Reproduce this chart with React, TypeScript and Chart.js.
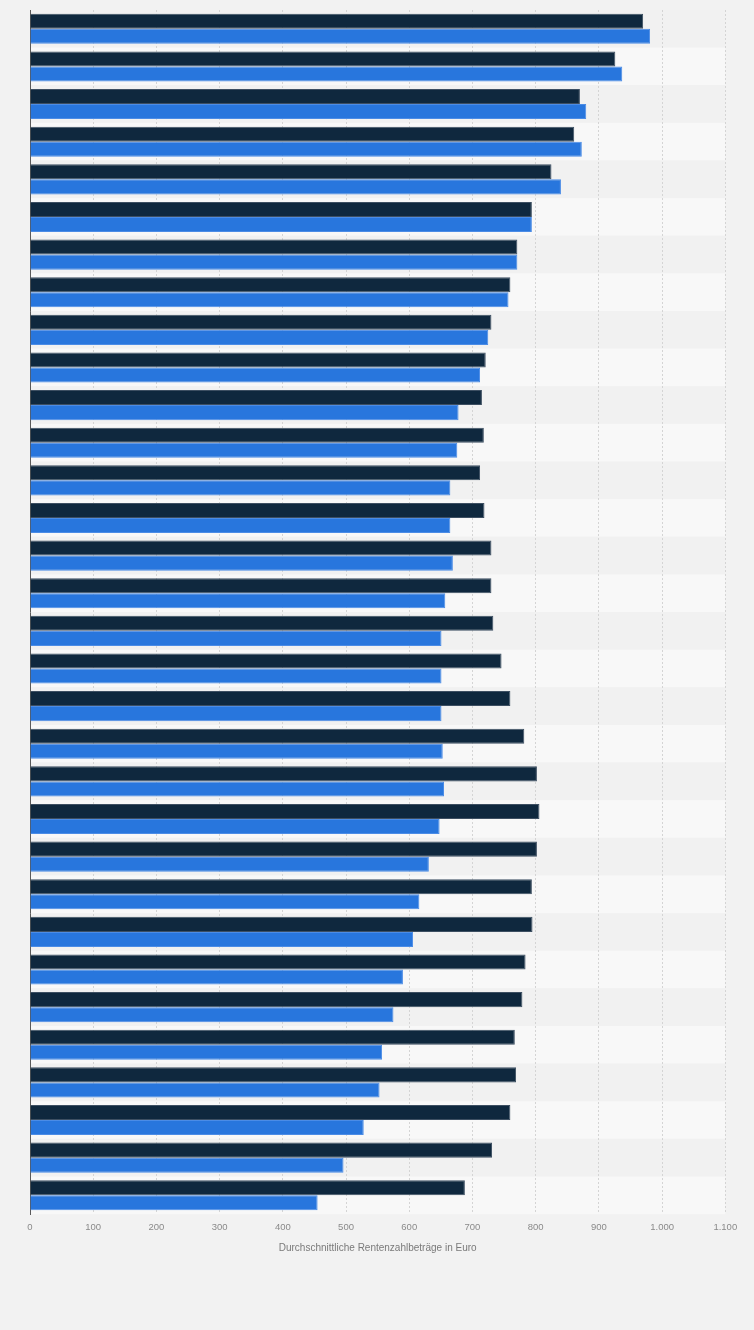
import React, { useEffect, useRef } from "react";
import { Chart, registerables } from "chart.js";

Chart.register(...registerables);

const categories = [
  "2022", "2021", "2020", "2019", "2018", "2017", "2016", "2015",
  "2014", "2013", "2012", "2011", "2010", "2009", "2008", "2007",
  "2006", "2005", "2004", "2003", "2002", "2001", "2000", "1999",
  "1998", "1997", "1996", "1995", "1994", "1993", "1992", "1991",
];

const seriesDark = [
  970, 926, 870, 861, 825, 794, 771, 760, 730, 721, 715, 718, 712, 719, 730, 730,
  733, 746, 760, 782, 802, 806, 802, 794, 795, 784, 779, 767, 769, 760, 731, 688,
];

const seriesBlue = [
  981, 937, 880, 873, 840, 794, 771, 757, 725, 712, 678, 676, 665, 665, 669, 657,
  651, 651, 651, 653, 655, 648, 631, 616, 606, 590, 575, 557, 553, 528, 496, 455,
];

const seriesNames = ["Alte Bundesländer", "Neue Bundesländer"];
const axisTitle = "Durchschnittliche Rentenzahlbeträge in Euro";
const xMin = 0;
const xMax = 1100;
const xStep = 100;

function formatDE(v: number): string {
  const s = Math.round(v).toString();
  return s.replace(/\B(?=(\d{3})+(?!\d))/g, ".");
}

const stripePlugin = {
  id: "stripes",
  beforeDraw(chart: any) {
    const { ctx, chartArea, scales } = chart;
    const y = scales.y;
    ctx.save();
    ctx.fillStyle = "#f2f2f2";
    ctx.fillRect(0, 0, chart.width, chart.height);
    const n = categories.length;
    const h = (chartArea.bottom - chartArea.top) / n;
    for (let i = 0; i < n; i++) {
      const c = y.getPixelForValue(i);
      ctx.fillStyle = i % 2 === 1 ? "#f8f8f8" : "#f1f1f1";
      ctx.fillRect(chartArea.left, c - h / 2, chartArea.right - chartArea.left, h);
    }
    ctx.restore();
  },
};

export default function App() {
  const ref = useRef<HTMLCanvasElement | null>(null);

  useEffect(() => {
    document.body.style.margin = "0";
    document.body.style.background = "#f2f2f2";
    if (!ref.current) return;
    const chart = new Chart(ref.current, {
      type: "bar",
      data: {
        labels: categories,
        datasets: [
          {
            label: seriesNames[0],
            data: seriesDark,
            backgroundColor: "#0f283e",
            borderColor: "#3d4f62",
            borderWidth: 1,
            categoryPercentage: 0.8,
            barPercentage: 1.0,
          },
          {
            label: seriesNames[1],
            data: seriesBlue,
            backgroundColor: "#2876dd",
            borderColor: "#4b8ce6",
            borderWidth: 1,
            categoryPercentage: 0.8,
            barPercentage: 1.0,
          },
        ],
      },
      options: {
        indexAxis: "y",
        animation: false,
        responsive: true,
        maintainAspectRatio: false,
        layout: { padding: { left: 30, top: 10, right: 28.7, bottom: 76 } },
        plugins: {
          legend: { display: false },
          tooltip: { enabled: false },
        },
        scales: {
          x: {
            min: xMin,
            max: xMax,
            ticks: {
              stepSize: xStep,
              padding: 8,
              color: "#8a8a8a",
              font: { family: "'Liberation Sans', Arial, sans-serif", size: 9.5 },
              callback: (v: any) => formatDE(Number(v)),
              maxRotation: 0,
            },
            grid: { color: "#d4d4d4", lineWidth: 1, drawTicks: false },
            border: { display: false, dash: [2, 2] },
            title: {
              display: true,
              text: axisTitle,
              color: "#7a7a7a",
              font: { family: "'Liberation Sans', Arial, sans-serif", size: 10 },
              padding: { top: 0.5, bottom: 0 },
            },
          },
          y: {
            ticks: { display: false },
            grid: { display: false, drawTicks: false },
            border: { display: true, color: "#5a5a5a", width: 1 },
          },
        },
      },
      plugins: [stripePlugin],
    });
    return () => chart.destroy();
  }, []);

  return (
    <div style={{ width: 754, height: 1330, position: "relative", background: "#f2f2f2" }}>
      <canvas ref={ref} />
    </div>
  );
}
